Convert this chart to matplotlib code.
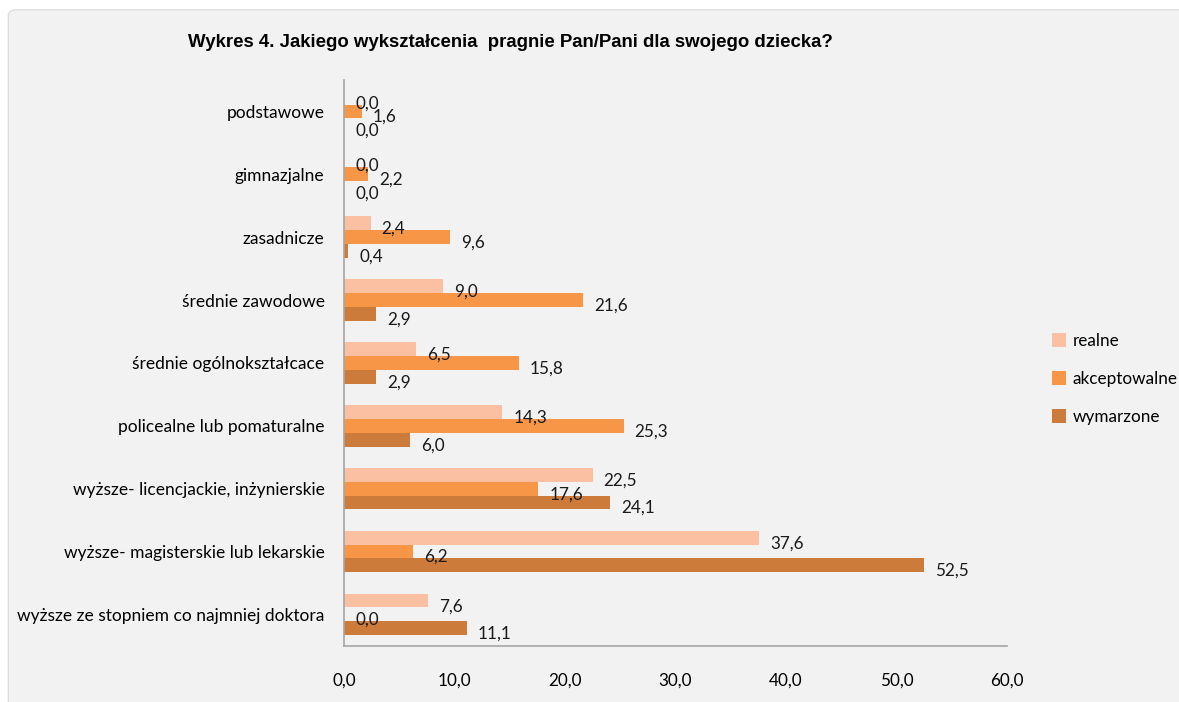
import numpy as np
import matplotlib.pyplot as plt
from matplotlib.patches import FancyBboxPatch

categories = ["podstawowe", "gimnazjalne", "zasadnicze", "średnie zawodowe",
              "średnie ogólnokształcace", "policealne lub pomaturalne",
              "wyższe- licencjackie, inżynierskie",
              "wyższe- magisterskie lub lekarskie",
              "wyższe ze stopniem co najmniej doktora"]
realne = [0.0, 0.0, 2.4, 9.0, 6.5, 14.3, 22.5, 37.6, 7.6]
akceptowalne = [1.6, 2.2, 9.6, 21.6, 15.8, 25.3, 17.6, 6.2, 0.0]
wymarzone = [0.0, 0.0, 0.4, 2.9, 2.9, 6.0, 24.1, 52.5, 11.1]
series_names = ["realne", "akceptowalne", "wymarzone"]
colors = ["#FAC0A1", "#F79646", "#CD7B3A"]
xticks = [0, 10, 20, 30, 40, 50, 60]

plt.rcParams['font.family'] = ['Lato', 'DejaVu Sans']

fig = plt.figure(figsize=(11.79, 7.02), dpi=100)
bg = FancyBboxPatch((0.007, -0.02), 1.1, 1.006, boxstyle="round,pad=0,rounding_size=0.008",
                    transform=fig.transFigure, facecolor="#F2F2F2", edgecolor="#D9D9D9",
                    linewidth=0.8, zorder=-10)
fig.patches.append(bg)

ax = fig.add_axes([0.2918, 0.080, 0.5622, 0.806])
ax.set_facecolor("none")

n = len(categories)
y = np.arange(n)
h = 0.22
offsets = [-h, 0, h]
for vals, name, col, off in zip([realne, akceptowalne, wymarzone], series_names, colors, offsets):
    bars = ax.barh(y + off, vals, height=h, color=col, label=name)
    for b, v in zip(bars, vals):
        ax.annotate(f"{v:.1f}".replace(".", ","), (b.get_width(), b.get_y() + b.get_height() / 2),
                    xytext=(8, -4), textcoords="offset points", ha="left", va="center",
                    fontsize=12.3, color="#1a1a1a")

ax.set_ylim(n - 0.5, -0.5)
ax.set_xlim(0, 60)
ax.set_yticks(y)
ax.set_yticklabels(categories, fontsize=12.5)
ax.set_xticks(xticks)
ax.set_xticklabels([f"{t:.1f}".replace(".", ",") for t in xticks], fontsize=12.3)
ax.tick_params(axis='x', length=0, pad=19)
ax.tick_params(axis='y', length=0, pad=14)
for s in ["top", "right"]:
    ax.spines[s].set_visible(False)
for s in ["left", "bottom"]:
    ax.spines[s].set_color("#A6A6A6")
    ax.spines[s].set_linewidth(1.2)

leg = ax.legend(loc="center left", bbox_to_anchor=(1.045, 0.472), frameon=False,
                fontsize=12.3, handlelength=0.8, handleheight=0.9, labelspacing=1.3,
                handletextpad=0.4)

fig.text(0.433, 0.940, "Wykres 4. Jakiego wykształcenia  pragnie Pan/Pani dla swojego dziecka?",
         ha="center", va="center", fontsize=13.4, fontweight="bold", family="Liberation Sans")

fig.savefig("out.png", dpi=100)
